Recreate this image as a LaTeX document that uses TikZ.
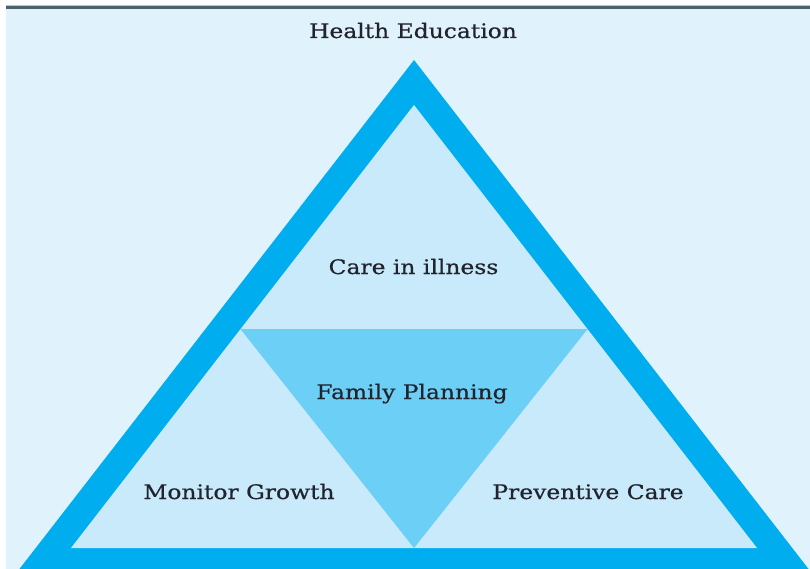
\documentclass[tikz,border=0pt]{standalone}
\usepackage{fontspec}
\setmainfont{DejaVu Serif}[FakeStretch=1.17,FakeBold=0.6]
\begin{document}
\begin{tikzpicture}[x=1pt,y=-1pt,
  label text/.style={font=\fontsize{20}{24}\selectfont, text=textdark, inner sep=0pt, anchor=base}]
\definecolor{pagebg}{RGB}{224,243,252}
\definecolor{band}{RGB}{0,174,239}
\definecolor{paletri}{RGB}{200,234,250}
\definecolor{midtri}{RGB}{108,207,246}
\definecolor{rule}{RGB}{78,98,108}
\definecolor{rulelight}{RGB}{160,210,220}
\definecolor{textdark}{RGB}{35,35,45}
\useasboundingbox (0,0) rectangle (810,569);
\begin{scope}
\clip (0,0) rectangle (810,569);
% page and top rule
\fill[white] (0,0) rectangle (810,569);
\fill[pagebg] (6,9) rectangle (810,569);
\fill[rulelight] (6,5) rectangle (810,6.5);
\fill[rule] (6,6.5) rectangle (810,9.5);
% outer band of the pyramid
\fill[band] (414,60) -- (814,576) -- (14,576) -- cycle;
% inner triangle
\coordinate (apex) at (414,105);
\coordinate (bl) at (71,548);
\coordinate (br) at (757,548);
\fill[paletri] (apex) -- (br) -- (bl) -- cycle;
% inverted middle triangle
\coordinate (ml) at (240.4,329);
\coordinate (mr) at (587.6,329);
\coordinate (mb) at (414,548);
\fill[midtri] (ml) -- (mr) -- (mb) -- cycle;
\end{scope}
% labels
\node[label text] (he) at (413,38) {Health Education};
\node[label text] (ci) at (413.5,274) {Care in illness};
\node[label text] (fp) at (412,399) {Family Planning};
\node[label text] (mg) at (239,499) {Monitor Growth};
\node[label text] (pc) at (588,499) {Preventive Care};
\end{tikzpicture}
\end{document}
